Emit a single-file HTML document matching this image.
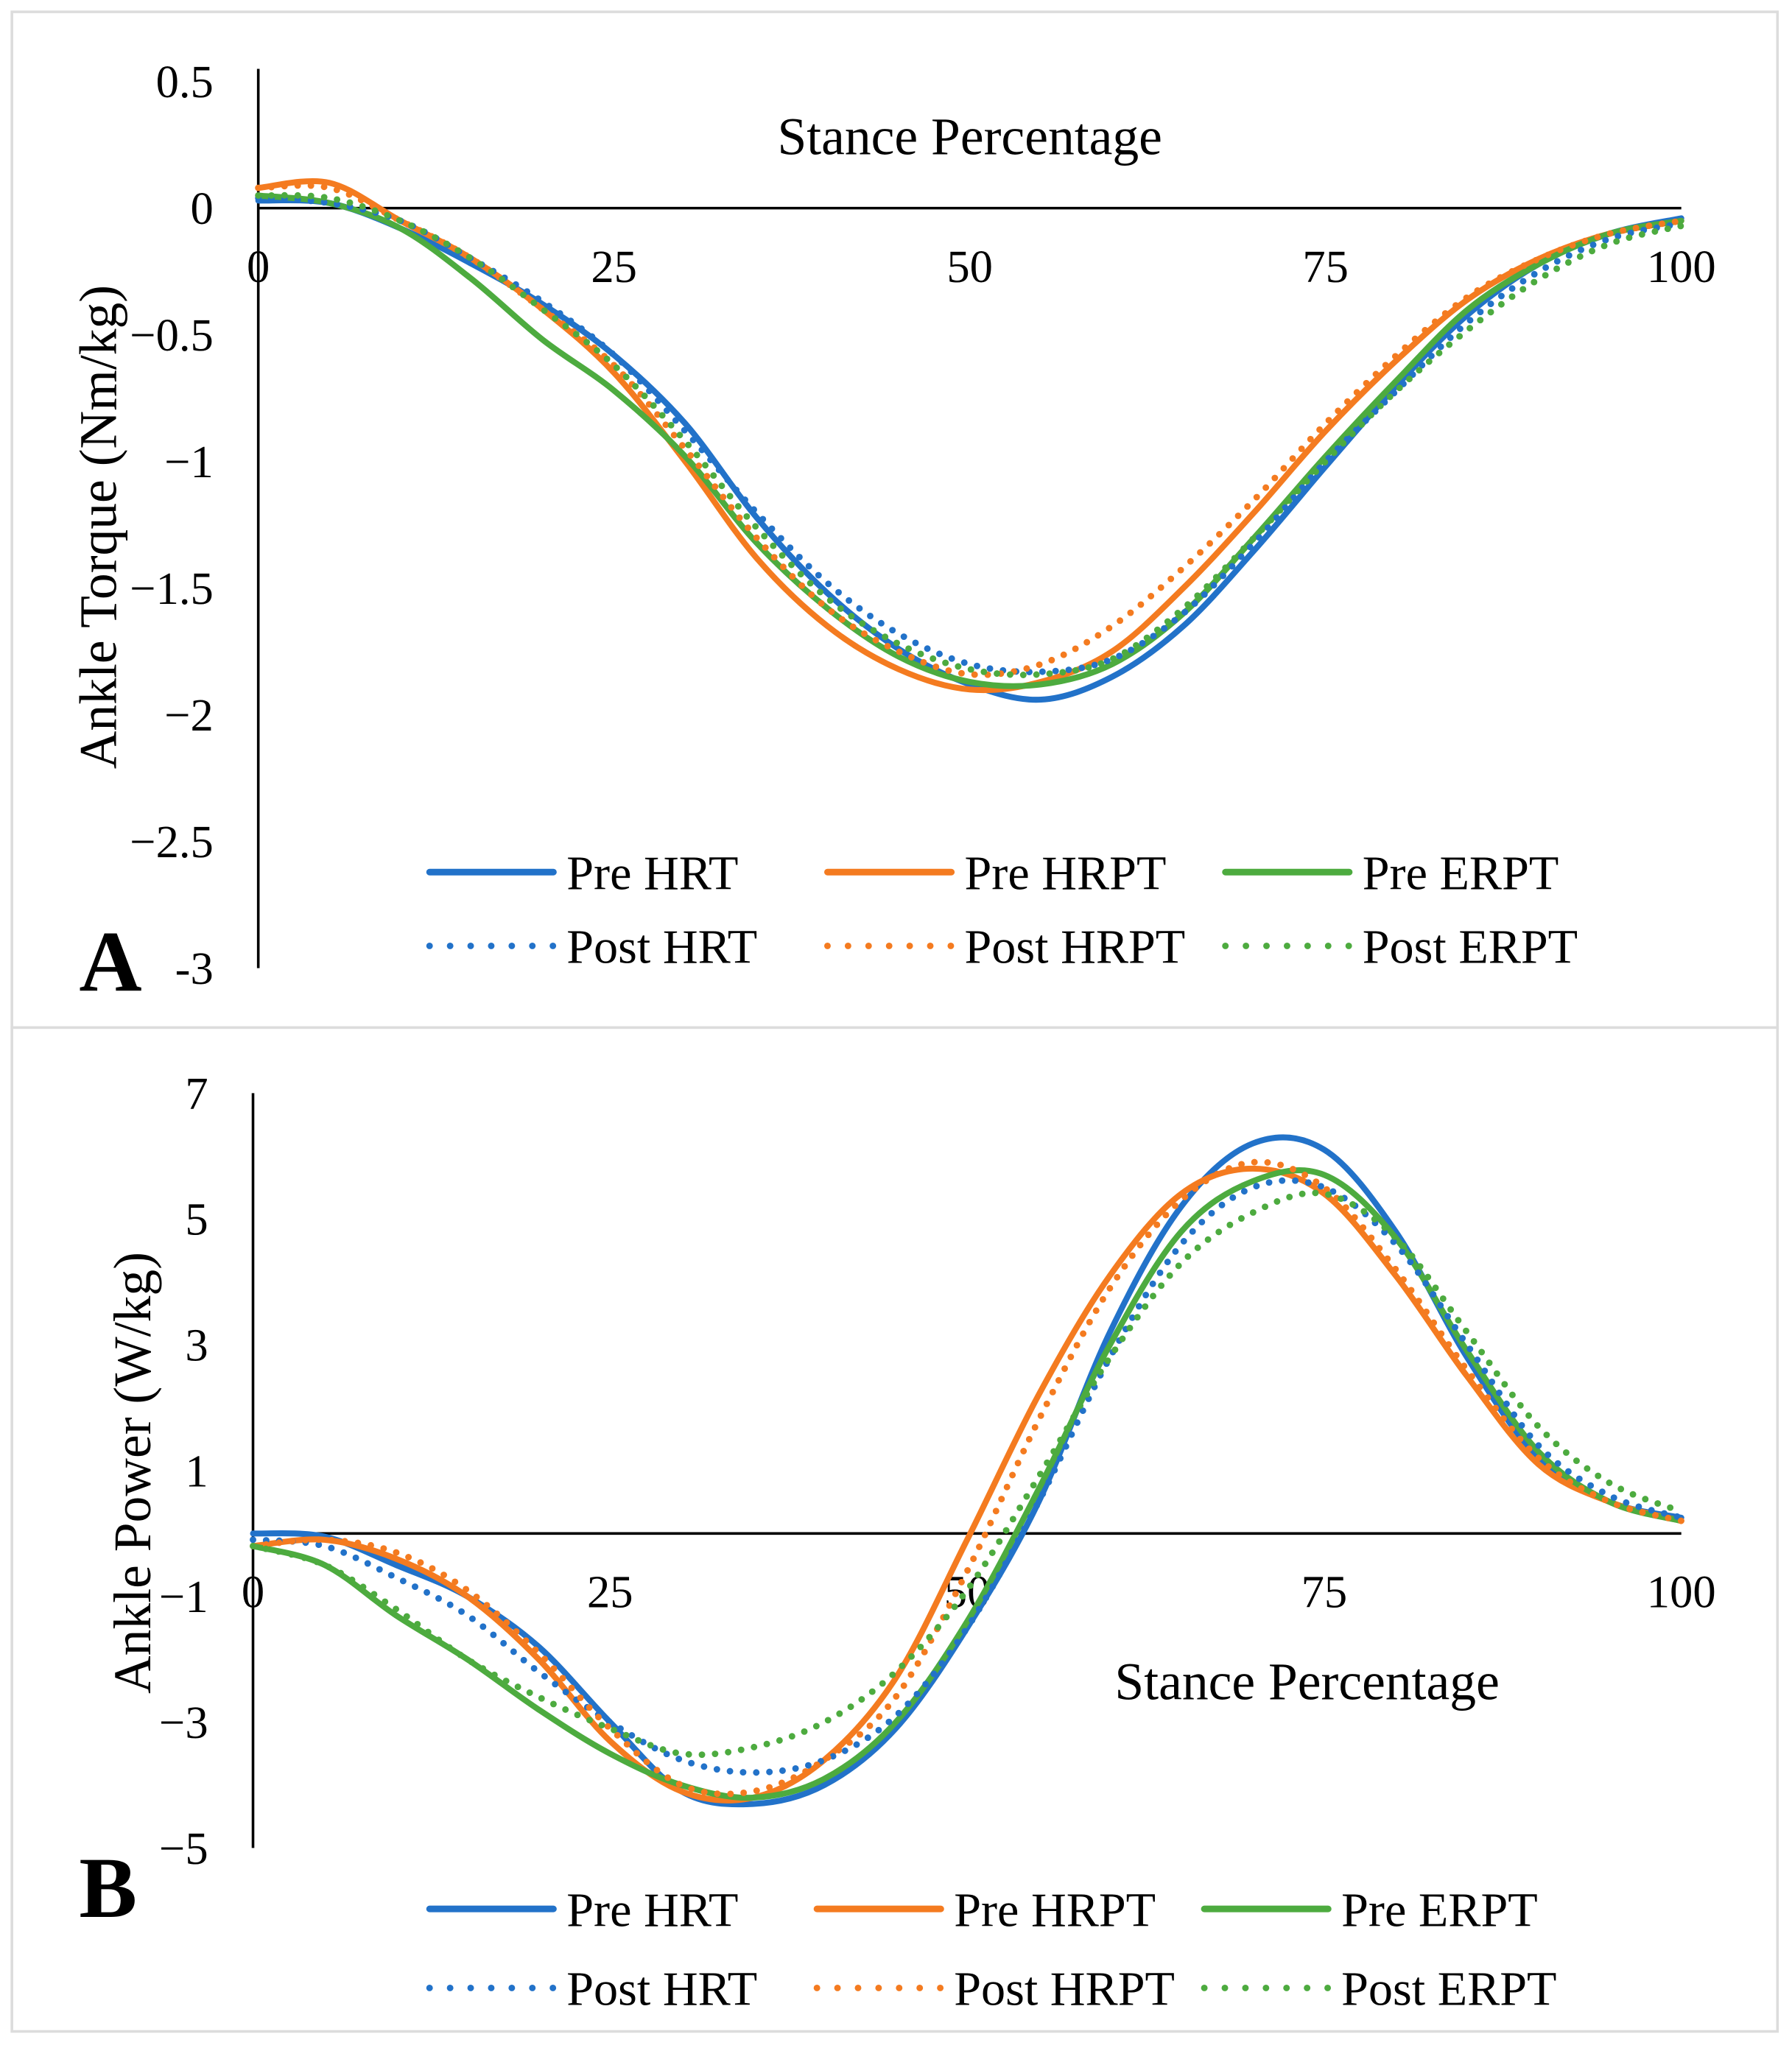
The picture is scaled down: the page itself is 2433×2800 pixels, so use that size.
<!DOCTYPE html>
<html><head><meta charset="utf-8"><style>
html,body{margin:0;padding:0;background:#fff}
svg{display:block}
text{font-family:"Liberation Serif",serif;fill:#000}
</style></head><body>
<svg id="fig" width="2433" height="2800" viewBox="0 0 1360 1565.2" xmlns="http://www.w3.org/2000/svg">
<rect x="9" y="9" width="1340" height="771" fill="#fff" stroke="#dcdcdc" stroke-width="2"/>
<rect x="9" y="780" width="1340" height="762" fill="#fff" stroke="#dcdcdc" stroke-width="2"/>
<g id="gA"></g>
<g id="gB"></g>
</svg>
<script>
const pct=[0,5,10,15,20,25,30,35,40,45,50,55,60,65,70,75,80,85,90,95,100];
const torqueTicks=[0.5,0,-0.5,-1,-1.5,-2,-2.5,-3];
const torqueTickLabels=["0.5","0","\u22120.5","\u22121","\u22121.5","\u22122","\u22122.5","-3"];
const powerTicks=[7,5,3,1,-1,-3,-5];
const powerTickLabels=["7","5","3","1","\u22121","\u22123","\u22125"];
const xTicks=[0,25,50,75,100];
const seriesNames=["Pre HRT","Pre HRPT","Pre ERPT","Post HRT","Post HRPT","Post ERPT"];
const torquePreHRT=[0.03,0.02,-0.08,-0.22,-0.38,-0.58,-0.85,-1.22,-1.52,-1.74,-1.88,-1.94,-1.85,-1.65,-1.35,-1.02,-0.7,-0.42,-0.22,-0.1,-0.04];
const torquePreHRPT=[0.08,0.1,-0.05,-0.2,-0.4,-0.65,-1.0,-1.38,-1.65,-1.82,-1.9,-1.87,-1.75,-1.5,-1.2,-0.88,-0.6,-0.36,-0.2,-0.1,-0.05];
const torquePreERPT=[0.05,0.02,-0.08,-0.28,-0.52,-0.72,-0.98,-1.32,-1.58,-1.77,-1.87,-1.88,-1.8,-1.6,-1.3,-0.98,-0.68,-0.4,-0.22,-0.1,-0.05];
const torquePostHRT=[0.04,0.02,-0.05,-0.2,-0.37,-0.58,-0.88,-1.2,-1.48,-1.68,-1.8,-1.83,-1.78,-1.6,-1.32,-1.0,-0.72,-0.45,-0.25,-0.12,-0.06];
const torquePostHRPT=[0.08,0.08,-0.05,-0.2,-0.4,-0.62,-0.95,-1.3,-1.58,-1.75,-1.84,-1.8,-1.65,-1.42,-1.15,-0.85,-0.58,-0.35,-0.2,-0.1,-0.05];
const torquePostERPT=[0.05,0.04,-0.05,-0.2,-0.4,-0.62,-0.92,-1.26,-1.54,-1.72,-1.82,-1.84,-1.78,-1.58,-1.3,-1.0,-0.72,-0.48,-0.28,-0.14,-0.07];
const powerPreHRT=[0,-0.05,-0.5,-1.0,-1.8,-3.0,-4.1,-4.3,-4.0,-3.1,-1.5,0.5,3.2,5.2,6.2,6.1,4.8,2.8,1.2,0.5,0.25];
const powerPreHRPT=[-0.2,-0.1,-0.4,-1.0,-2.0,-3.3,-4.1,-4.2,-3.6,-2.3,-0.1,2.2,4.1,5.4,5.8,5.4,4.1,2.5,1.1,0.5,0.2];
const powerPreERPT=[-0.2,-0.5,-1.3,-2.0,-2.8,-3.5,-4.0,-4.2,-3.9,-3.0,-1.4,0.7,3.0,4.8,5.6,5.7,4.7,2.9,1.3,0.5,0.2];
const powerPostHRT=[-0.1,-0.2,-0.7,-1.3,-2.2,-3.0,-3.6,-3.8,-3.6,-2.9,-1.5,0.5,2.8,4.6,5.5,5.5,4.6,3.0,1.4,0.6,0.25];
const powerPostHRPT=[-0.2,-0.1,-0.3,-0.9,-1.9,-3.1,-4.0,-4.1,-3.6,-2.6,-0.6,1.8,3.9,5.3,5.9,5.5,4.2,2.6,1.2,0.5,0.2];
const powerPostERPT=[-0.2,-0.5,-1.2,-2.0,-2.6,-3.1,-3.5,-3.4,-3.0,-2.2,-0.9,0.9,2.8,4.3,5.1,5.4,4.7,3.2,1.7,0.8,0.35];

const NS="http://www.w3.org/2000/svg";
const COLORS=["#2272c9","#f47b20","#4dab3f","#2272c9","#f47b20","#4dab3f"];
function mk(parent,tag,attrs,txt){const e=document.createElementNS(NS,tag);for(const k in attrs)e.setAttribute(k,attrs[k]);if(txt!==undefined)e.textContent=txt;parent.appendChild(e);return e;}
function smooth(pts){let d="M"+pts[0][0]+","+pts[0][1];for(let i=0;i<pts.length-1;i++){const p0=pts[Math.max(0,i-1)],p1=pts[i],p2=pts[i+1],p3=pts[Math.min(pts.length-1,i+2)];const c1=[p1[0]+(p2[0]-p0[0])/6,p1[1]+(p2[1]-p0[1])/6],c2=[p2[0]-(p3[0]-p1[0])/6,p2[1]-(p3[1]-p1[1])/6];d+=" C"+c1[0].toFixed(2)+","+c1[1].toFixed(2)+" "+c2[0].toFixed(2)+","+c2[1].toFixed(2)+" "+p2[0].toFixed(2)+","+p2[1].toFixed(2);}return d;}

function drawChart(g,cfg){
  const xs=p=>cfg.x0+p*(cfg.x1-cfg.x0)/100;
  const ys=v=>cfg.yZero-v*cfg.yScale;
  let e=mk(g,"line",{x1:cfg.x0,x2:cfg.x0,y1:ys(cfg.yMax),y2:ys(cfg.yMin),stroke:"#000","stroke-width":2});
  
  
  e=mk(g,"line",{x1:cfg.x0,x2:cfg.x1,y1:ys(0),y2:ys(0),stroke:"#000","stroke-width":2});
  
  
  cfg.yTicks.forEach((v,i)=>{
    const t=mk(g,"text",{x:cfg.x0-34,y:ys(v)+12,"text-anchor":"end","font-size":35},cfg.yLabels[i]);
    
    
  });
  xTicks.forEach(v=>{
    const t=mk(g,"text",{x:xs(v),y:ys(0)+56,"text-anchor":"middle","font-size":35},String(v));
    
    
  });
  cfg.series.forEach((arr,i)=>{
    const pts=pct.map((p,j)=>[xs(p),ys(arr[j])]);
    const a={d:smooth(pts),fill:"none",stroke:COLORS[i],"stroke-width":i<3?4.5:5,"stroke-linecap":"round"};
    if(i>=3)a["stroke-dasharray"]="0 10";
    const p=mk(g,"path",a);
    
    
  });
  let t=mk(g,"text",{x:cfg.titleX,y:cfg.titleY,"text-anchor":"middle","font-size":40},"Stance Percentage");
  
  
  t=mk(g,"text",{x:0,y:0,"text-anchor":"middle","font-size":40,transform:"translate("+cfg.ytX+","+cfg.ytY+") rotate(-90)"},cfg.yTitle);
  
  
  seriesNames.forEach((n,i)=>{
    const c=i%3,r=Math.floor(i/3);
    const lx=cfg.legX[c],ly=cfg.legY[r];
    const a={x1:lx,x2:lx+94,y1:ly,y2:ly,stroke:COLORS[i],"stroke-width":5,"stroke-linecap":"round"};
    if(i>=3)a["stroke-dasharray"]="0 15.6";
    const l=mk(g,"line",a);
    
    
    const tt=mk(g,"text",{x:lx+104,y:ly+13,"font-size":37},n);
    
    
  });
  t=mk(g,"text",{x:cfg.letterX,y:cfg.letterY,"font-size":66,"font-weight":"bold"},cfg.letter);
  
  
}
drawChart(document.getElementById("gA"),{x0:196,x1:1276,yZero:158,yScale:192.3,yMax:0.55,yMin:-3,
  yTicks:torqueTicks,yLabels:torqueTickLabels,
  series:[torquePreHRT,torquePreHRPT,torquePreERPT,torquePostHRT,torquePostHRPT,torquePostERPT],
  titleX:736,titleY:117,ytX:88,ytY:400,yTitle:"Ankle Torque (Nm/kg)",
  legX:[326,628,930],legY:[662,718],letter:"A",letterX:60,letterY:752});
drawChart(document.getElementById("gB"),{x0:192,x1:1276,yZero:1164,yScale:47.75,yMax:7,yMin:-5,
  yTicks:powerTicks,yLabels:powerTickLabels,
  series:[powerPreHRT,powerPreHRPT,powerPreERPT,powerPostHRT,powerPostHRPT,powerPostERPT],
  titleX:992,titleY:1290,ytX:114,ytY:1118,yTitle:"Ankle Power (W/kg)",
  legX:[326,620,914],legY:[1449,1509],letter:"B",letterX:60,letterY:1455});
</script>
</body></html>
